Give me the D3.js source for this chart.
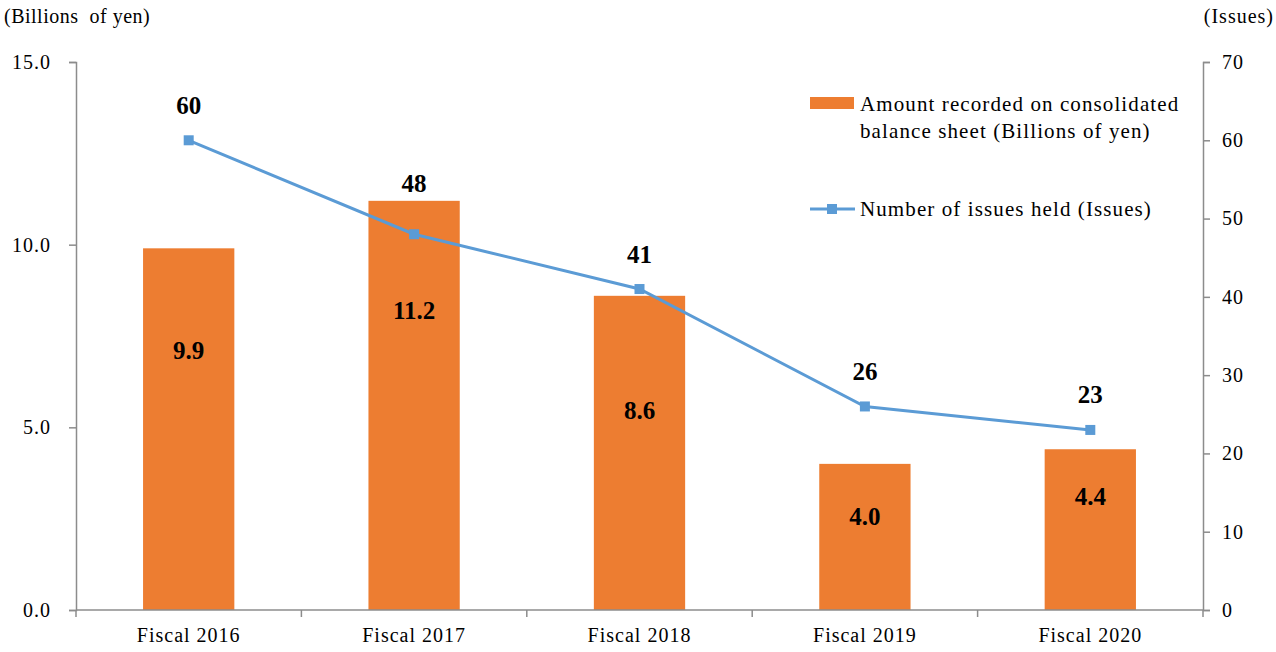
<!DOCTYPE html>
<html>
<head>
<meta charset="utf-8">
<script src="https://cdn.jsdelivr.net/npm/d3@7"></script>
<style>
  body { margin: 0; background: #fff; }
  text { font-family: "Liberation Serif", "Times New Roman", serif; fill: #000; }
</style>
</head>
<body>
<svg class="chart"></svg>
<script>
// data
const years = ['Fiscal 2016', 'Fiscal 2017', 'Fiscal 2018', 'Fiscal 2019', 'Fiscal 2020'];
const amounts = [9.9, 11.2, 8.6, 4.0, 4.4];
const issues = [60, 48, 41, 26, 23];
const leftTicks = [0, 5, 10, 15];
const rightTicks = [0, 10, 20, 30, 40, 50, 60, 70];

// where the value labels sit inside the bars (in billions of yen) and extra lift for line labels
const barLabelAt = [7.1, 8.2, 5.45, 2.55, 3.1];
const lineLabelLift = [0, 16, 0, 0, 0];

const width = 1276, height = 652;
const svg = d3.select('.chart').attr('width', width).attr('height', height);

const plotL = 76, plotR = 1203, plotT = 62, plotB = 610;
const axisColor = '#8c8c8c';
const barColor = '#ED7D31';
const lineColor = '#5B9BD5';

const x = d3.scaleBand().domain(years).range([plotL, plotR]).paddingInner(0.595).paddingOuter(0.2975);
const xb = d3.scaleBand().domain(years).range([plotL, plotR]);
const y = d3.scaleLinear().domain([0, 15]).range([plotB, plotT]);
const y2 = d3.scaleLinear().domain([0, 70]).range([plotB, plotT]);

// bars
svg.append('g').selectAll('rect').data(amounts).join('rect')
  .attr('x', (d, i) => x(years[i]))
  .attr('y', d => y(d))
  .attr('width', x.bandwidth())
  .attr('height', d => y(0) - y(d))
  .attr('fill', barColor);

// axes
const styleAxis = g => {
  g.select('.domain').attr('stroke', axisColor).attr('stroke-width', 1.5);
  g.selectAll('.tick line').attr('stroke', axisColor).attr('stroke-width', 1.5);
  g.selectAll('.tick text').style('font-size', '20px').style('letter-spacing', '1px');
};

svg.append('g').attr('transform', `translate(${plotL},0)`)
  .call(d3.axisLeft(y).tickValues(leftTicks).tickFormat(d3.format('.1f')).tickSizeOuter(0).tickSize(7).tickPadding(18))
  .call(styleAxis);

svg.append('g').attr('transform', `translate(${plotR},0)`)
  .call(d3.axisRight(y2).tickValues(rightTicks).tickSizeOuter(0).tickSize(7).tickPadding(12))
  .call(styleAxis);

const xAxis = svg.append('g').attr('transform', `translate(0,${plotB})`)
  .call(d3.axisBottom(xb).tickSize(0).tickPadding(18))
  .call(styleAxis);
xAxis.select('.domain').attr('d', `M${plotL},0H${plotR}`);
// category separators
xAxis.selectAll('.sep').data(years.concat(['end'])).join('line')
  .attr('class', 'sep')
  .attr('x1', (d, i) => i < years.length ? xb(d) : plotR)
  .attr('x2', (d, i) => i < years.length ? xb(d) : plotR)
  .attr('y1', 0).attr('y2', 7)
  .attr('stroke', axisColor).attr('stroke-width', 1.5);
svg.selectAll('.tick text').attr('font-family', null);

// line
const cx = i => xb(years[i]) + xb.bandwidth() / 2;
const line = d3.line().x((d, i) => cx(i)).y(d => y2(d));
svg.append('path').datum(issues)
  .attr('d', line)
  .attr('fill', 'none')
  .attr('stroke', lineColor)
  .attr('stroke-width', 3);

const m = 10;
svg.append('g').selectAll('rect').data(issues).join('rect')
  .attr('x', (d, i) => cx(i) - m / 2)
  .attr('y', d => y2(d) - m / 2)
  .attr('width', m).attr('height', m)
  .attr('fill', lineColor);

// labels
svg.append('g').selectAll('text').data(amounts).join('text')
  .attr('x', (d, i) => cx(i))
  .attr('y', (d, i) => y(barLabelAt[i]))
  .attr('text-anchor', 'middle')
  .attr('dominant-baseline', 'central')
  .style('font-size', '25px').style('font-weight', 'bold')
  .text(d => d.toFixed(1));

svg.append('g').selectAll('text').data(issues).join('text')
  .attr('x', (d, i) => cx(i))
  .attr('y', (d, i) => y2(d) - 35 - lineLabelLift[i])
  .attr('text-anchor', 'middle')
  .attr('dominant-baseline', 'central')
  .style('font-size', '25px').style('font-weight', 'bold')
  .text(d => d);

// axis titles
svg.append('text').attr('x', 4).attr('y', 16).attr('dominant-baseline', 'central')
  .attr('xml:space', 'preserve')
  .style('font-size', '20px').style('letter-spacing', '0.5px').style('white-space', 'pre')
  .text('(Billions  of yen)');
svg.append('text').attr('x', 1274).attr('y', 16).attr('dominant-baseline', 'central')
  .attr('text-anchor', 'end')
  .style('font-size', '20px').style('letter-spacing', '1px')
  .text('(Issues)');

// legend
const lg = svg.append('g');
lg.append('rect').attr('x', 810).attr('y', 97).attr('width', 44).attr('height', 12).attr('fill', barColor);
lg.append('text').attr('x', 860).attr('y', 104).attr('dominant-baseline', 'central')
  .style('font-size', '21px').style('letter-spacing', '1.1px')
  .text('Amount recorded on consolidated');
lg.append('text').attr('x', 860).attr('y', 131).attr('dominant-baseline', 'central')
  .style('font-size', '21px').style('letter-spacing', '1.1px')
  .text('balance sheet (Billions of yen)');
lg.append('line').attr('x1', 810).attr('x2', 855).attr('y1', 209).attr('y2', 209)
  .attr('stroke', lineColor).attr('stroke-width', 3);
lg.append('rect').attr('x', 827).attr('y', 204).attr('width', 10).attr('height', 10).attr('fill', lineColor);
lg.append('text').attr('x', 860).attr('y', 209).attr('dominant-baseline', 'central')
  .style('font-size', '21px').style('letter-spacing', '1.1px')
  .text('Number of issues held (Issues)');
</script>
</body>
</html>
